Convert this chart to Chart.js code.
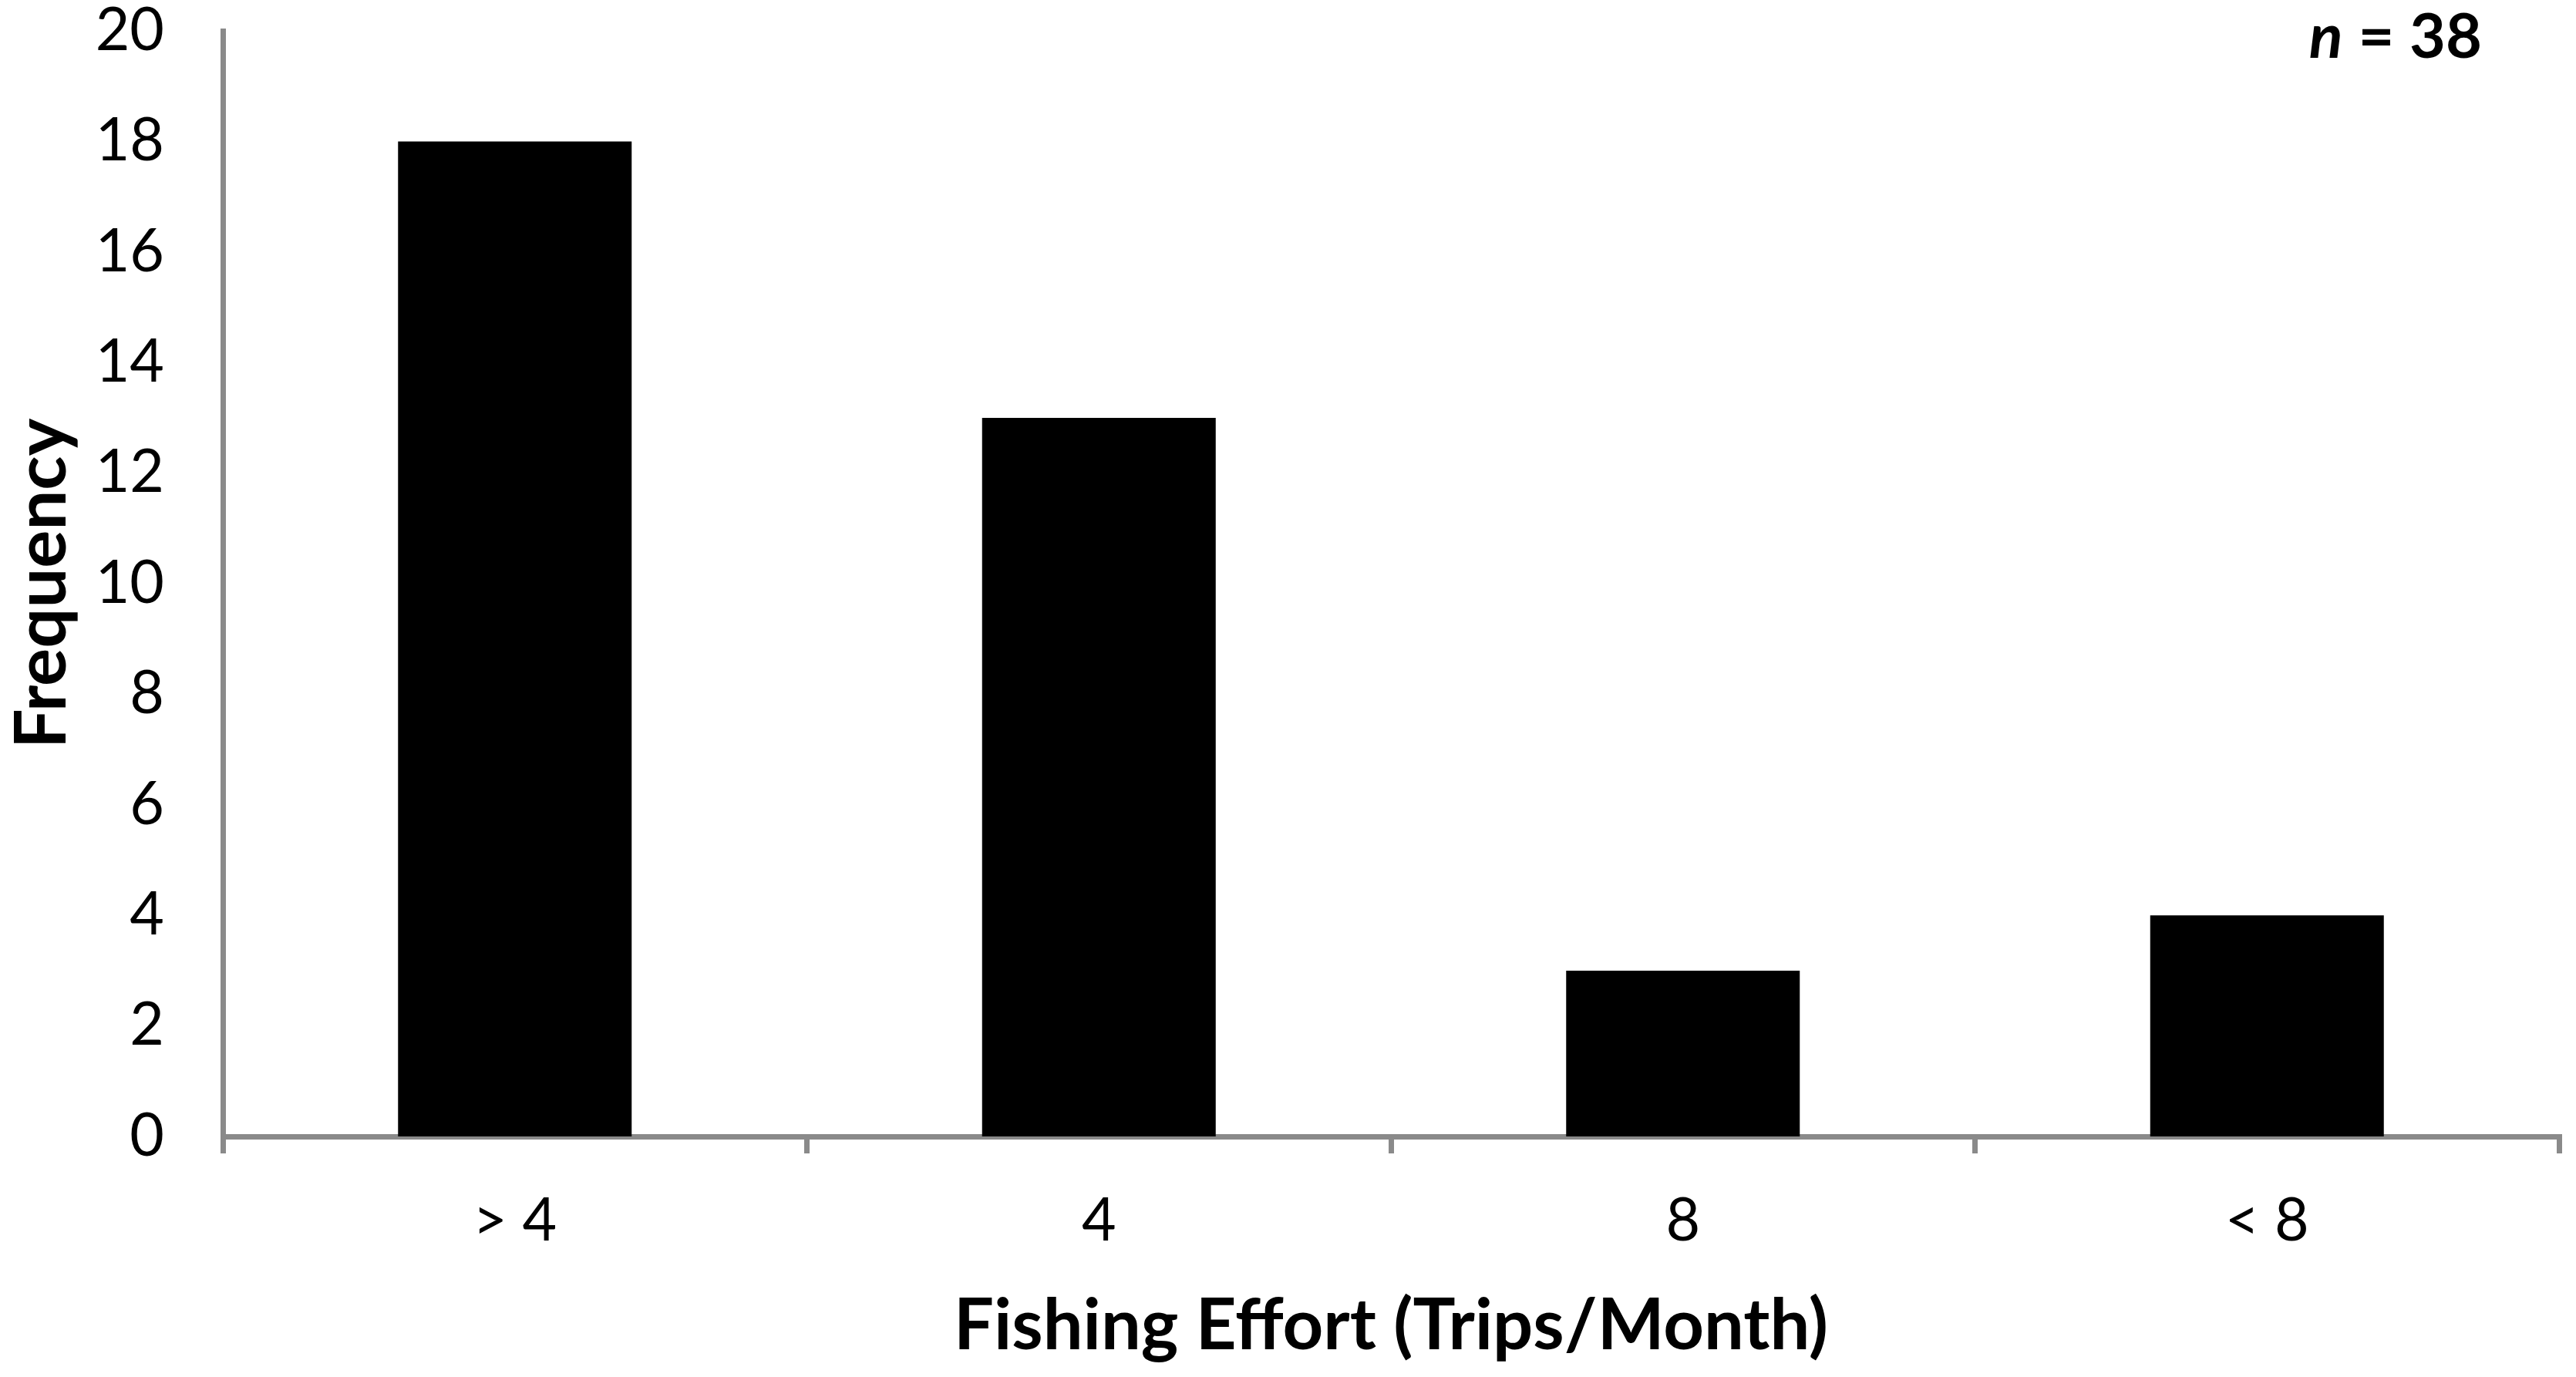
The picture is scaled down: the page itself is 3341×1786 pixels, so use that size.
<!DOCTYPE html>
<html>
<head>
<meta charset="utf-8">
<script src="https://cdn.jsdelivr.net/npm/chart.js@4.4.1/dist/chart.umd.min.js"></script>
<style>
  html, body { margin: 0; padding: 0; background: #fff; }
  canvas { display: block; }
</style>
</head>
<body>
<canvas id="effortChart" width="3341" height="1786"></canvas>
<script>
// fishing effort histogram

var categories = ['> 4', '4', '8', '< 8'];
var frequency = [18, 13, 3, 4];
var yTicks = [0, 2, 4, 6, 8, 10, 12, 14, 16, 18, 20];
var sampleSize = 38;

var axisGray = '#8a8a8a';
var fontFamily = 'Lato, Carlito, Calibri, sans-serif';

// "n = 38" in the top right corner
var sampleLabel = {
    id: 'sampleLabel',
    afterDraw: function(chart) {
        var ctx = chart.ctx;
        var right = 3219, base = 75;
        ctx.save();
        ctx.fillStyle = '#000';
        ctx.textBaseline = 'alphabetic';
        ctx.textAlign = 'left';
        ctx.font = 'bold 81px ' + fontFamily;
        var rest = ' = ' + sampleSize;
        var wRest = ctx.measureText(rest).width;
        ctx.fillText(rest, right - wRest, base);
        ctx.font = 'italic bold 81px ' + fontFamily;
        ctx.textAlign = 'right';
        ctx.fillText('n', right - wRest, base);
        ctx.restore();
    }
};

var ctx = document.getElementById('effortChart');
var myChart = new Chart(ctx, {
    type: 'bar',
    data: {
        labels: categories,
        datasets: [{
            data: frequency,
            backgroundColor: '#000000',
            borderWidth: 0,
            barPercentage: 0.4,
            categoryPercentage: 1.0
        }]
    },
    options: {
        responsive: false,
        animation: false,
        layout: { padding: { left: 0, top: 40, right: 22, bottom: 0 } },
        plugins: {
            legend: { display: false },
            tooltip: { enabled: false }
        },
        scales: {
            x: {
                offset: true,
                grid: {
                    offset: true,
                    drawOnChartArea: false,
                    drawTicks: true,
                    tickLength: 22,
                    color: axisGray,
                    lineWidth: 7
                },
                border: { display: true, color: axisGray, width: 7 },
                ticks: {
                    color: '#000',
                    padding: 42,
                    font: { family: fontFamily, size: 77 },
                    maxRotation: 0
                },
                title: {
                    display: true,
                    text: 'Fishing Effort (Trips/Month)',
                    color: '#000',
                    font: { family: fontFamily, size: 92, weight: 'bold' },
                    padding: { top: 0, bottom: 10 }
                },
                afterFit: function(scale) {
                    scale.height = 312;
                    scale.paddingLeft = 0;
                    scale.paddingRight = 0;
                }
            },
            y: {
                min: 0,
                max: 20,
                afterBuildTicks: function(scale) {
                    scale.ticks = yTicks.map(function(v) { return { value: v }; });
                },
                grid: { display: false, drawTicks: false },
                border: { display: true, color: axisGray, width: 7 },
                ticks: {
                    color: '#000',
                    padding: 76,
                    font: { family: fontFamily, size: 77 }
                },
                title: {
                    display: true,
                    text: 'Frequency',
                    color: '#000',
                    font: { family: fontFamily, size: 92, weight: 'bold' },
                    padding: { top: 0, bottom: 0 }
                },
                afterFit: function(scale) {
                    scale.width = 289;
                    scale.paddingTop = 0;
                    scale.paddingBottom = 0;
                }
            }
        }
    },
    plugins: [sampleLabel]
});
</script>
</body>
</html>
